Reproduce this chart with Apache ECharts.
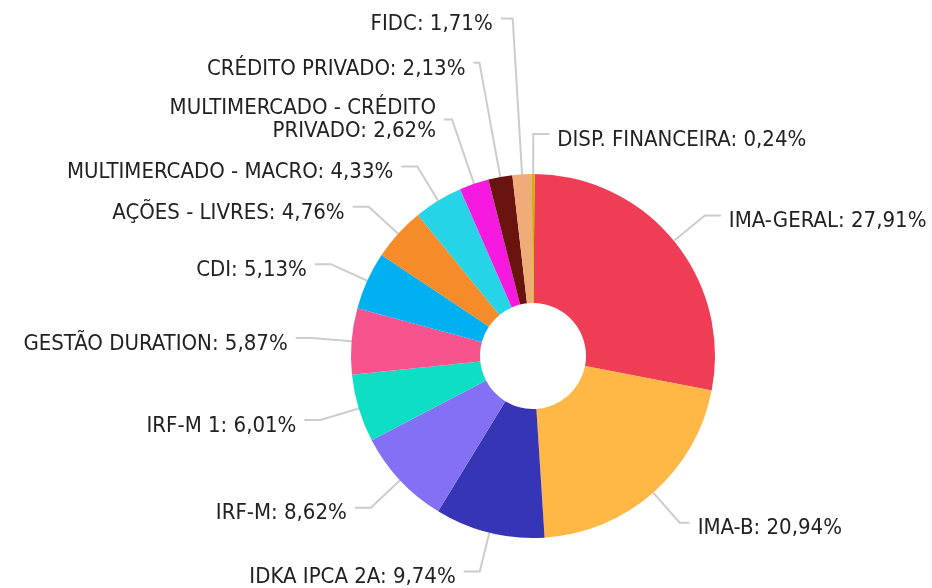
<!DOCTYPE html>
<html>
<head>
<meta charset="utf-8">
<script src="https://cdn.jsdelivr.net/npm/echarts@6/dist/echarts.min.js"></script>
<style>html,body{margin:0;padding:0;background:#fff}#c{width:932px;height:588px}</style>
</head>
<body>
<div id="c"></div>
<script>
var categories = ['IMA-GERAL','IMA-B','IDKA IPCA 2A','IRF-M','IRF-M 1','GESTÃO DURATION','CDI','AÇÕES - LIVRES','MULTIMERCADO - MACRO','MULTIMERCADO - CRÉDITO PRIVADO','CRÉDITO PRIVADO','FIDC','DISP. FINANCEIRA'];
var values = [27.91, 20.94, 9.74, 8.62, 6.01, 5.87, 5.13, 4.76, 4.33, 2.62, 2.13, 1.71, 0.24];
var colors = ['#EF3D55','#FFB845','#3535B5','#8470F5','#0EDEC3','#F7548F','#00B0F0','#F68B2A','#25D4E6','#F61AE0','#6A1410','#F0AC78','#C9B400'];

// per-slice label line styling (stacked labels at the top-left)
var lineStyleOverrides = {
  'FIDC': {length: 156, length2: 12},
  'CRÉDITO PRIVADO': {length: 116, length2: 6},
  'MULTIMERCADO - CRÉDITO PRIVADO': {length: 68, length2: 8},
  'IMA-B': {length2: 10}
};
var wrapWidth = {'MULTIMERCADO - CRÉDITO PRIVADO': 285};

var chart = echarts.init(document.getElementById('c'), null, {renderer: 'canvas'});
var data = categories.map(function (n, i) {
  var d = {name: n, value: values[i], itemStyle: {color: colors[i]}};
  if (lineStyleOverrides[n]) d.labelLine = lineStyleOverrides[n];
  if (wrapWidth[n]) d.label = {width: wrapWidth[n], overflow: 'break', rich: {t: {lineHeight: 23}}};
  return d;
});
chart.setOption({
  animation: false,
  backgroundColor: '#fff',
  series: [{
    type: 'pie',
    center: [533, 356],
    radius: [53, 182],
    startAngle: 89.5,
    clockwise: true,
    avoidLabelOverlap: false,
    data: data,
    itemStyle: {borderWidth: 0},
    label: {
      show: true,
      color: '#222',
      fontFamily: 'DejaVu Sans Condensed, DejaVu Sans',
      fontSize: 22,
      lineHeight: 24,
      overflow: 'none',
      distanceToLabelLine: 8,
      formatter: function (p) { return '{s| }\n{t|' + p.name + ': ' + p.value.toFixed(2).replace('.', ',') + '%}'; },
      rich: {
        s: {fontSize: 6, lineHeight: 12, height: 12},
        t: {fontSize: 22, lineHeight: 24}
      }
    },
    labelLine: {
      show: true,
      length: 40,
      length2: 16,
      lineStyle: {color: '#cccccc', width: 2}
    }
  }]
});
</script>
</body>
</html>
